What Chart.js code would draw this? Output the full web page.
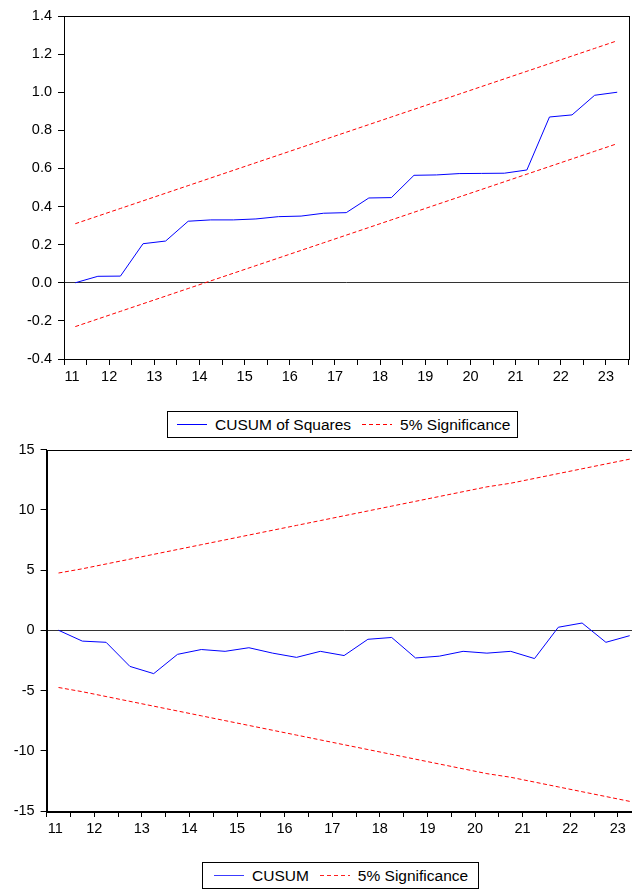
<!DOCTYPE html>
<html>
<head>
<meta charset="utf-8">
<script src="https://cdn.jsdelivr.net/npm/chart.js@4.4.1/dist/chart.umd.min.js"></script>
<style>
  html, body { margin: 0; padding: 0; background: #fff; }
  body { width: 632px; height: 891px; overflow: hidden; position: relative;
         font-family: "Liberation Sans", Arial, sans-serif; }
  canvas { position: absolute; left: 0; }
  #sqChart { top: 0; }
  #cuChart { top: 420px; }
  .legend { position: absolute; display: flex; align-items: center;
            border: 1px solid #000; height: 27px; box-sizing: border-box; padding: 0 7px 0 9px;
            font-size: 15.5px; color: #000; white-space: nowrap; background: #fff; }
  .legend .s { display: inline-block; width: 30px; height: 1px; margin-right: 8px; background: #00f; }
  .legend .s.d { background: repeating-linear-gradient(to right, #f00 0px, #f00 4px, #fff 4px, #fff 7px); margin-left: 11px; }
  #lg2 { padding: 0 10px 0 11px; }
  #lg2 .s { background: #3c3cff; }
  #lg2 .s.d { background: repeating-linear-gradient(to right, #ff2020 0px, #ff2020 4px, #fff 4px, #fff 7px); }
</style>
</head>
<body>
<canvas id="sqChart" width="632" height="390"></canvas>
<canvas id="cuChart" width="660" height="422"></canvas>
<div class="legend" id="lg1" style="left:167px; top:411px;"><span class="s"></span>CUSUM of Squares<span class="s d"></span>5% Significance</div>
<div class="legend" id="lg2" style="left:202px; top:862px;"><span class="s"></span>CUSUM<span class="s d"></span>5% Significance</div>
<script>
// half-year periods
const periods = ['2011H2',
  '2012H1', '2012H2', '2013H1', '2013H2', '2014H1', '2014H2', '2015H1', '2015H2',
  '2016H1', '2016H2', '2017H1', '2017H2', '2018H1', '2018H2', '2019H1', '2019H2',
  '2020H1', '2020H2', '2021H1', '2021H2', '2022H1', '2022H2', '2023H1', '2023H2'];

const yearLabels = ['11', '12', '13', '14', '15', '16', '17', '18', '19', '20', '21', '22', '23'];

// CUSUM of squares and its 5% bounds
const cusumSq = [0.00, 0.034, 0.035, 0.205, 0.219, 0.323, 0.33, 0.33, 0.335, 0.347, 0.35, 0.365, 0.368,
  0.445, 0.447, 0.564, 0.566, 0.573, 0.574, 0.575, 0.592, 0.87, 0.881, 0.984, 1.00];
const sqUpper = [0.31, 0.35, 0.39, 0.43, 0.47, 0.51, 0.55, 0.59, 0.63, 0.67, 0.71, 0.75, 0.79,
  0.83, 0.87, 0.91, 0.95, 0.99, 1.03, 1.07, 1.11, 1.15, 1.19, 1.23, 1.27];
const sqLower = [-0.23, -0.19, -0.15, -0.11, -0.07, -0.03, 0.01, 0.05, 0.09, 0.13, 0.17, 0.21, 0.25,
  0.29, 0.33, 0.37, 0.41, 0.45, 0.49, 0.53, 0.57, 0.61, 0.65, 0.69, 0.73];

// CUSUM and its 5% bounds
const cusum = [0, -0.9, -1.0, -3.0, -3.6, -2.0, -1.6, -1.75, -1.45, -1.9, -2.25, -1.75, -2.1,
  -0.75, -0.6, -2.3, -2.15, -1.75, -1.9, -1.75, -2.35, 0.25, 0.6, -1.0, -0.45];
const cuUpper = [4.75, 5.1, 5.5, 5.9, 6.3, 6.7, 7.1, 7.5, 7.9, 8.3, 8.7, 9.1, 9.5,
  9.9, 10.3, 10.7, 11.1, 11.5, 11.9, 12.2, 12.6, 13.0, 13.4, 13.8, 14.2];
const cuLower = [-4.75, -5.1, -5.5, -5.9, -6.3, -6.7, -7.1, -7.5, -7.9, -8.3, -8.7, -9.1, -9.5,
  -9.9, -10.3, -10.7, -11.1, -11.5, -11.9, -12.2, -12.6, -13.0, -13.4, -13.8, -14.2];

const sqTicks = [-0.4, -0.2, 0.0, 0.2, 0.4, 0.6, 0.8, 1.0, 1.2, 1.4];
const cuTicks = [-15, -10, -5, 0, 5, 10, 15];

// position of a half-year period on the time axis (centre of the half)
function periodX(p) {
  const y = parseInt(p.slice(0, 4), 10);
  return y + (p.slice(5) === '1' ? 0.25 : 0.75);
}
const xMin = 2011.5, xMax = 2024;
const firstLabelPos = 2011.68;
const labelPos = yearLabels.map((l, i) => i === 0 ? firstLabelPos : 2011 + i + 0.5);
const xTickVals = [xMin, firstLabelPos];
for (let v = 2012; v <= xMax; v += 0.5) xTickVals.push(v);

const font = { family: '"Liberation Sans", Arial, sans-serif', size: 14.5 };

function series(vals, color, dash) {
  return {
    data: periods.map((p, i) => ({ x: periodX(p), y: vals[i] })),
    borderColor: color, borderWidth: 1, borderDash: dash || [],
    pointRadius: 0, tension: 0, fill: false
  };
}

const frame = {
  id: 'frame',
  afterDraw(chart) {
    const { ctx, chartArea: a } = chart;
    ctx.save();
    ctx.strokeStyle = '#000';
    ctx.lineWidth = 1;
    ctx.strokeRect(Math.round(a.left) + 0.5, Math.round(a.top) + 0.5,
      Math.round(a.right - a.left), Math.round(a.bottom - a.top));
    ctx.restore();
  }
};

function makeChart(id, s, up, lo, yTicks, fmt, yWidth, pad) {
  return new Chart(document.getElementById(id), {
    type: 'line',
    data: { datasets: [series(s, '#0000ff'), series(up, '#ff0000', [4, 2.5]), series(lo, '#ff0000', [4, 2.5])] },
    options: {
      responsive: false, animation: false,
      layout: { padding: pad },
      plugins: { legend: { display: false }, tooltip: { enabled: false } },
      scales: {
        x: {
          type: 'linear', min: xMin, max: xMax,
          afterBuildTicks: sc => { sc.ticks = xTickVals.map(v => ({ value: v })); },
          afterFit: sc => { sc.height = 31; },
          ticks: {
            autoSkip: false, maxRotation: 0, padding: 3, color: '#000', font,
            callback: v => {
              const i = labelPos.findIndex(p => Math.abs(p - v) < 1e-6);
              return i >= 0 ? yearLabels[i] : '';
            }
          },
          grid: {
            drawOnChartArea: false, tickLength: 6, tickWidth: 1,
            tickColor: c => (c.tick && Math.abs(c.tick.value - firstLabelPos) < 1e-6) ? 'rgba(0,0,0,0)' : '#000'
          },
          border: { color: '#000', width: 1 }
        },
        y: {
          min: yTicks[0], max: yTicks[yTicks.length - 1],
          afterBuildTicks: sc => { sc.ticks = yTicks.map(v => ({ value: v })); },
          afterFit: sc => { sc.width = yWidth; },
          ticks: { padding: 6, color: '#000', font, callback: fmt },
          grid: {
            tickLength: 6, tickColor: '#000',
            color: c => (c.tick && Math.abs(c.tick.value) < 1e-9) ? '#333' : 'rgba(0,0,0,0)'
          },
          border: { color: '#000', width: 1 }
        }
      }
    },
    plugins: [frame]
  });
}

makeChart('sqChart', cusumSq, sqUpper, sqLower, sqTicks, v => v.toFixed(1), 64,
  { top: 16, right: 3.5, bottom: 0, left: 0 });
makeChart('cuChart', cusum, cuUpper, cuLower, cuTicks, v => String(v), 46.6,
  { top: 29.5, right: 18.4, bottom: 0, left: 0 });
</script>
</body>
</html>
